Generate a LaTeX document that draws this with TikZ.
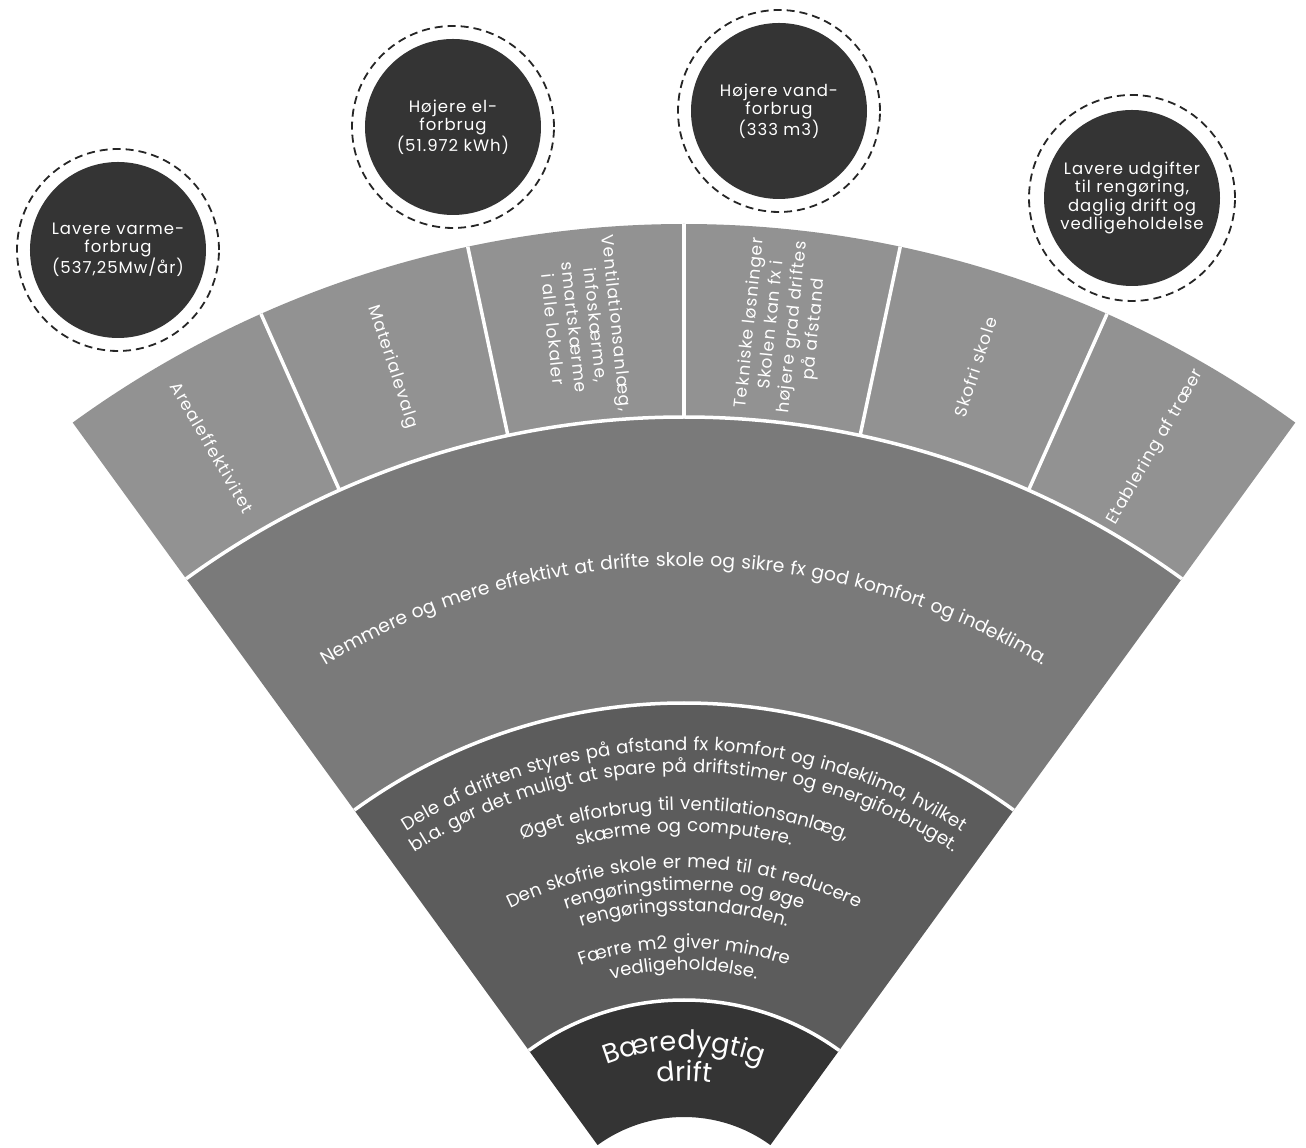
\documentclass[tikz,border=0pt]{standalone}
\usepackage{fontspec}
\setmainfont{Poppins}[LetterSpace=6]
\usepackage{tikz}
\usepackage{xcolor}
\usetikzlibrary{decorations.text}

\definecolor{segGray}{RGB}{146,146,146}
\definecolor{bandGray}{RGB}{122,122,122}
\definecolor{noteGray}{RGB}{92,92,92}
\definecolor{coreGray}{RGB}{52,52,52}

\newcommand{\bubblefont}{\fontsize{16.5}{18.5}\selectfont}
\newcommand{\segfont}{\fontsize{17}{21.5}\selectfont}
\newcommand{\notefont}{\fontsize{18.2}{19}\selectfont}
\newcommand{\bandfont}{\fontsize{18.8}{20}\selectfont}
\newcommand{\corefont}{\fontsize{27}{30}\selectfont}

\tikzset{
  bubble/.style={circle, fill=coreGray, minimum size=176pt, inner sep=0pt,
    text=white, align=center, font=\bubblefont},
  bubblering/.style={dash pattern=on 8pt off 5pt, line width=1.8pt, black!85},
  seglabel/.style={text=white, align=center, font=\segfont},
  divider/.style={white, line width=3.5pt},
  arctext/.style={decorate, decoration={text along path, text align=center,
    text color=white, text={#1}}}
}

\begin{document}
\begin{tikzpicture}[x=1pt,y=1pt]
  \useasboundingbox[fill=white] (-684,116) rectangle (622,1264);

  % rings of the fan, centre at the origin
  \fill[segGray] (54:847) arc[start angle=54,end angle=126,radius=847] -- (126:1040) arc[start angle=126,end angle=54,radius=1040] -- cycle;
  \fill[bandGray] (54:561) arc[start angle=54,end angle=126,radius=561] -- (126:847) arc[start angle=126,end angle=54,radius=847] -- cycle;
  \fill[noteGray] (54:264) arc[start angle=54,end angle=126,radius=264] -- (126:561) arc[start angle=126,end angle=54,radius=561] -- cycle;
  \fill[coreGray] (54:147) arc[start angle=54,end angle=126,radius=147] -- (126:264) arc[start angle=126,end angle=54,radius=264] -- cycle;

  % white borders
  \draw[divider] (54:847) arc[start angle=54,end angle=126,radius=847];
  \draw[divider] (54:561) arc[start angle=54,end angle=126,radius=561];
  \draw[divider] (54:264) arc[start angle=54,end angle=126,radius=264];
  \draw[divider] (66:847) -- (66:1040);
  \draw[divider] (78:847) -- (78:1040);
  \draw[divider] (90:847) -- (90:1040);
  \draw[divider] (102:847) -- (102:1040);
  \draw[divider] (114:847) -- (114:1040);

  % outer segments
  \node[seglabel, rotate=-60] (areal) at (120:943) {Arealeffektivitet};
  \node[seglabel, rotate=-72] (materiale) at (108:943) {Materialevalg};
  \node[seglabel, rotate=-84] (ventilation) at (96:943) {Ventilationsanlæg,\\infoskærme,\\smartskærme\\i alle lokaler};
  \node[seglabel, rotate=84] (teknik) at (84:943) {Tekniske løsninger\\Skolen kan fx i\\højere grad driftes\\på afstand};
  \node[seglabel, rotate=72] (skofri) at (72:943) {Skofri skole};
  \node[seglabel, rotate=60] (traeer) at (60:943) {Etablering af træer};

  % middle band
  \path[arctext={|\bandfont|Nemmere og mere effektivt at drifte skole og sikre fx god komfort og indeklima.}] (126:698) arc[start angle=126,end angle=54,radius=698];

  % notes
  \path[arctext={|\notefont|Dele af driften styres på afstand fx komfort og indeklima, hvilket}] (126:514) arc[start angle=126,end angle=54,radius=514];
  \path[arctext={|\notefont|bl.a. gør det muligt at spare på driftstimer og energiforbruget.}] (126:492) arc[start angle=126,end angle=54,radius=492];
  \path[arctext={|\notefont|Øget elforbrug til ventilationsanlæg,}] (126:454) arc[start angle=126,end angle=54,radius=454];
  \path[arctext={|\notefont|skærme og computere.}] (126:432) arc[start angle=126,end angle=54,radius=432];
  \path[arctext={|\notefont|Den skofrie skole er med til at reducere}] (126:396) arc[start angle=126,end angle=54,radius=396];
  \path[arctext={|\notefont|rengøringstimerne og øge}] (126:374) arc[start angle=126,end angle=54,radius=374];
  \path[arctext={|\notefont|rengøringsstandarden.}] (126:353) arc[start angle=126,end angle=54,radius=353];
  \path[arctext={|\notefont|Færre m2 giver mindre}] (126:316) arc[start angle=126,end angle=54,radius=316];
  \path[arctext={|\notefont|vedligeholdelse.}] (126:294) arc[start angle=126,end angle=54,radius=294];

  % core
  \path[arctext={|\corefont|Bæredygtig}] (126:214) arc[start angle=126,end angle=54,radius=214];
  \path[arctext={|\corefont|drift}] (126:183) arc[start angle=126,end angle=54,radius=183];

  % bubbles
  \node[bubble] (varme) at (-566,1014) {Lavere varme-\\forbrug\\(537,25Mw/år)};
  \node[bubble] (el) at (-231,1137) {Højere el-\\forbrug\\(51.972 kWh)};
  \node[bubble] (vand) at (95,1153) {Højere vand-\\forbrug\\(333 m3)};
  \node[bubble] (udgifter) at (448,1066) {Lavere udgifter\\til rengøring,\\daglig drift og\\vedligeholdelse};
  \draw[bubblering] (varme) circle (101);
  \draw[bubblering] (el) circle (101);
  \draw[bubblering] (vand) circle (101);
  \draw[bubblering] (udgifter) circle (103);
\end{tikzpicture}
\end{document}
